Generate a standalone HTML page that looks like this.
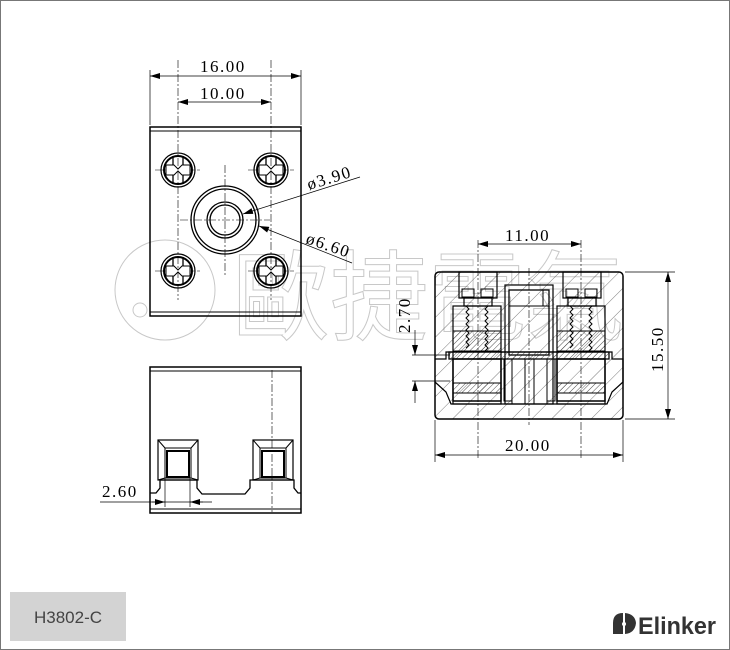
<!DOCTYPE html>
<html><head><meta charset="utf-8"><style>
html,body{margin:0;padding:0;background:#fff}
svg{display:block}
text{font-family:"Liberation Serif",serif}
</style></head><body>
<svg width="730" height="650" viewBox="0 0 730 650" xmlns="http://www.w3.org/2000/svg">
<defs>
<pattern id="h" width="14" height="14" patternUnits="userSpaceOnUse" patternTransform="rotate(45)">
<line x1="0" y1="0" x2="0" y2="14" stroke="#444" stroke-width="0.7"/></pattern>
<pattern id="hd" width="4" height="4" patternUnits="userSpaceOnUse" patternTransform="rotate(45)">
<line x1="0" y1="0" x2="0" y2="4" stroke="#222" stroke-width="0.8"/></pattern>
<marker id="a" viewBox="0 0 10 6" refX="10" refY="3" markerWidth="10" markerHeight="6" orient="auto-start-reverse" markerUnits="userSpaceOnUse"><path d="M0,0L10,3L0,6z" fill="#000"/></marker>
</defs>
<rect x="0.5" y="0.5" width="729" height="649" fill="none" stroke="#777"/>

<!-- watermark -->
<g fill="none" stroke="#c8c8c8" stroke-width="1">
<circle cx="165" cy="290" r="50"/><circle cx="140" cy="310" r="7"/>
<text x="232" y="332" font-size="98" font-family="Noto Sans CJK SC,sans-serif" stroke="#c8c8c8" fill="none">歐捷電氣</text>
</g>

<g stroke="#000" fill="none">
<!-- top view -->
<rect x="150" y="127" width="151" height="189" stroke-width="1.5"/>
<line x1="150" y1="131" x2="301" y2="131"/><line x1="150" y1="312" x2="301" y2="312"/>
<g stroke-dasharray="8,2,2,2" stroke-width="0.6">
<line x1="178" y1="60" x2="178" y2="300"/><line x1="271" y1="60" x2="271" y2="300"/>
<line x1="225" y1="165" x2="225" y2="275"/><line x1="180" y1="220" x2="270" y2="220"/>
<line x1="155" y1="170" x2="200" y2="170"/><line x1="248" y1="170" x2="294" y2="170"/>
<line x1="155" y1="271" x2="200" y2="271"/><line x1="248" y1="271" x2="294" y2="271"/>
</g>
<g id="sc">
<circle cx="178" cy="170" r="17" stroke-width="1.2"/><circle cx="178" cy="170" r="14" stroke-width="2"/>
<line x1="173" y1="156" x2="173" y2="184" stroke-width="1.3"/><line x1="183" y1="156" x2="183" y2="184" stroke-width="1.3"/>
<path d="M166,165 L174,165 L178,169 L182,165 L190,165 L190,175 L182,175 L178,171 L174,175 L166,175Z" fill="#fff"/>
</g>
<use href="#sc" x="93"/><use href="#sc" y="101"/><use href="#sc" x="93" y="101"/>
<circle cx="225" cy="220" r="34" stroke-width="1.3"/><circle cx="225" cy="220" r="31" stroke-width="1.3"/>
<circle cx="225" cy="220" r="18" stroke-width="1.3"/><circle cx="225" cy="220" r="15" stroke-width="1.3"/>
<!-- dims -->
<line x1="150" y1="70" x2="150" y2="125" stroke-width="0.7"/><line x1="301" y1="70" x2="301" y2="125" stroke-width="0.7"/>
<line x1="150" y1="76" x2="301" y2="76" stroke-width="0.7" marker-start="url(#a)" marker-end="url(#a)"/>
<line x1="178" y1="102" x2="271" y2="102" stroke-width="0.7" marker-start="url(#a)" marker-end="url(#a)"/>
<line x1="360" y1="177" x2="243" y2="214" stroke-width="0.7" marker-end="url(#a)"/>
<line x1="352" y1="263" x2="259" y2="226" stroke-width="0.7" marker-end="url(#a)"/>

<!-- bottom view -->
<rect x="150" y="367" width="151" height="146" stroke-width="1.5"/>
<line x1="150" y1="371" x2="301" y2="371"/><line x1="150" y1="509" x2="301" y2="509"/>
<line x1="272" y1="370" x2="272" y2="512" stroke-dasharray="8,2,2,2" stroke-width="0.6"/>
<path d="M150,493 L156,493 L160,488 L160,480 L197,480 L197,488 L202,494 L245,494 L250,488 L250,480 L294,480 L294,488 L298,493 L301,493" stroke-width="1.3"/>
<rect x="158" y="440" width="40" height="40" stroke-width="1.2"/>
<rect x="165" y="448" width="26" height="30" stroke-width="1"/>
<rect x="167" y="451" width="22" height="26" stroke-width="2"/>
<path d="M158,440L165,448M198,440L191,448M158,480L165,478M198,480L191,478"/>
<rect x="253" y="440" width="40" height="40" stroke-width="1.2"/>
<rect x="260" y="448" width="26" height="30" stroke-width="1"/>
<rect x="262" y="451" width="22" height="26" stroke-width="2"/>
<path d="M253,440L260,448M293,440L286,448M253,480L260,478M293,480L286,478"/>
<line x1="165" y1="478" x2="165" y2="507" stroke-width="0.7"/><line x1="190" y1="478" x2="190" y2="507" stroke-width="0.7"/>
<line x1="100" y1="502" x2="212" y2="502" stroke-width="0.7"/>
<line x1="152" y1="502" x2="165" y2="502" stroke-width="0.7" marker-end="url(#a)"/>
<line x1="203" y1="502" x2="190" y2="502" stroke-width="0.7" marker-end="url(#a)"/>

<!-- right section -->
<rect x="435" y="272" width="188" height="147" rx="4" fill="url(#h)" stroke-width="1.5"/>
<g stroke="#000" stroke-width="1.2">
<rect x="459" y="272" width="38" height="26"/><rect x="563" y="272" width="38" height="26"/>
<rect x="464" y="298" width="28" height="8"/><rect x="568" y="298" width="28" height="8"/>
<rect x="453" y="306" width="48" height="98"/><rect x="557" y="306" width="48" height="98"/>
<rect x="505" y="285" width="48" height="119"/>
<path d="M435,359 L446,359 L446,352 L612,352 L612,359 L623,359 L623,382 L612,392 L607,404 L451,404 L446,392 L435,382"/>
</g>
<g stroke-width="1">
<rect x="462" y="289" width="12" height="8"/><rect x="481" y="289" width="12" height="8"/>
<rect x="566" y="289" width="12" height="8"/><rect x="585" y="289" width="12" height="8"/>
<rect x="509" y="290" width="40" height="65" stroke-width="1.3"/><line x1="509" y1="306" x2="549" y2="306"/><line x1="543" y1="290" x2="543" y2="306"/>
<rect x="453" y="331" width="48" height="20" fill="url(#hd)"/><rect x="557" y="331" width="48" height="20" fill="url(#hd)"/>
<path d="M466,306 l3,3 -3,3 3,3 -3,3 3,3 -3,3 3,3 -3,3 3,3 -3,3 3,3 -3,3 3,3 -3,3M488,306 l-3,3 3,3 -3,3 3,3 -3,3 3,3 -3,3 3,3 -3,3 3,3 -3,3 3,3 -3,3 3,3 -3,3"/>
<path d="M570,306 l3,3 -3,3 3,3 -3,3 3,3 -3,3 3,3 -3,3 3,3 -3,3 3,3 -3,3 3,3 -3,3M592,306 l-3,3 3,3 -3,3 3,3 -3,3 3,3 -3,3 3,3 -3,3 3,3 -3,3 3,3 -3,3 3,3 -3,3"/>
<rect x="449" y="352" width="160" height="7" fill="url(#hd)" stroke-width="1.3"/>
<rect x="453" y="359" width="48" height="42" stroke-width="1.5"/><rect x="557" y="359" width="48" height="42" stroke-width="1.5"/>
<rect x="453" y="383" width="48" height="10" fill="url(#hd)"/><rect x="557" y="383" width="48" height="10" fill="url(#hd)"/>
<rect x="512" y="359" width="13" height="45"/><rect x="534" y="359" width="13" height="45"/>
<rect x="504" y="359" width="8" height="42"/><rect x="547" y="359" width="8" height="42"/>
<line x1="451" y1="404" x2="607" y2="404"/>
</g>
<g stroke-dasharray="8,2,2,2" stroke-width="0.6">
<line x1="478" y1="240" x2="478" y2="460"/><line x1="581" y1="240" x2="581" y2="460"/><line x1="529" y1="268" x2="529" y2="425"/>
</g>
<g stroke-width="0.7">
<line x1="478" y1="244" x2="581" y2="244" marker-start="url(#a)" marker-end="url(#a)"/>
<line x1="435" y1="420" x2="435" y2="462"/><line x1="623" y1="420" x2="623" y2="462"/>
<line x1="435" y1="455" x2="623" y2="455" marker-start="url(#a)" marker-end="url(#a)"/>
<line x1="625" y1="272" x2="675" y2="272"/><line x1="625" y1="419" x2="675" y2="419"/>
<line x1="668" y1="272" x2="668" y2="419" marker-start="url(#a)" marker-end="url(#a)"/>
<line x1="412" y1="355" x2="450" y2="355"/><line x1="412" y1="381" x2="450" y2="381"/>
<line x1="415" y1="330" x2="415" y2="355" marker-end="url(#a)"/>
<line x1="415" y1="403" x2="415" y2="381" marker-end="url(#a)"/>
</g>
</g>

<g font-size="17" fill="#000" letter-spacing="1.5">
<text x="200" y="72">16.00</text>
<text x="200" y="99">10.00</text>
<text x="309" y="190" transform="rotate(-17 309 190)">ø3.90</text>
<text x="305" y="243" transform="rotate(19 305 243)">ø6.60</text>
<text x="102" y="497">2.60</text>
<text x="505" y="241">11.00</text>
<text x="505" y="451">20.00</text>
<text x="663" y="372" transform="rotate(-90 663 372)">15.50</text>
<text x="410" y="333" transform="rotate(-90 410 333)">2.70</text>
</g>

<rect x="10" y="592" width="116" height="49" fill="#d3d3d3"/>
<text x="68" y="623" font-size="17" text-anchor="middle" fill="#444" style="font-family:'Liberation Sans',sans-serif">H3802-C</text>
<g fill="#333">
<path d="M613,634 L613,623 Q613,613 623,613 L623,634Z"/><path d="M625,613 Q635,614 636,623 Q635,633 625,634Z"/>
<circle cx="624" cy="624" r="2" fill="#fff"/>
<text x="638" y="634" font-size="24" font-weight="bold" style="font-family:'Liberation Sans',sans-serif" textLength="78" lengthAdjust="spacingAndGlyphs">Elinker</text>
</g>
</svg>
</body></html>
